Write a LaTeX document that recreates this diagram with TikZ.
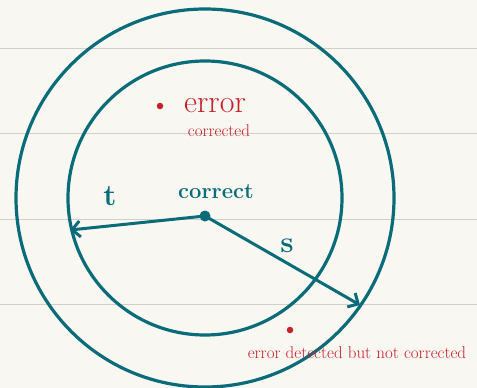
\documentclass[tikz,border=0pt]{standalone}
\usetikzlibrary{positioning,arrows.meta}
\definecolor{inkteal}{RGB}{10,108,120}
\definecolor{inkred}{RGB}{200,32,42}
\definecolor{paper}{RGB}{249,247,242}
\definecolor{ruleline}{RGB}{210,206,200}

\begin{document}
\begin{tikzpicture}[x=1pt,y=-1pt,
  ringline/.style={draw=inkteal,line width=3.2pt},
  radiusarrow/.style={draw=inkteal,line width=3pt,-{Straight Barb[length=8pt,width=16pt]}},
  tealdot/.style={circle,fill=inkteal,inner sep=0pt,minimum size=11pt},
  reddot/.style={circle,fill=inkred,inner sep=0pt,minimum size=6.5pt},
  tealtext/.style={text=inkteal,inner sep=0pt},
  redtext/.style={text=inkred,inner sep=0pt}]

	\fill[paper] (0,0) rectangle (477,388);
	\useasboundingbox (0,0) rectangle (477,388);
	\foreach \y in {48,133,219,304}
		\draw[ruleline,line width=1pt] (0,\y) -- (477,\y);

	\draw[ringline] (205,198) circle (189pt);
	\draw[ringline] (205,198) circle (137pt);

	\node[tealdot] (c) at (205,216) {};
	\coordinate (tend) at (70,230);
	\coordinate (send) at (360,305);
	\draw[radiusarrow] (c.center) -- (tend);
	\draw[radiusarrow] (c.center) -- (send);

	\node[tealtext,font=\bfseries\fontsize{22}{26}\selectfont] (lcorrect) at (216,192) {correct};
	\node[tealtext,font=\bfseries\fontsize{30}{32}\selectfont] (lt) at (110,196) {t};
	\node[tealtext,font=\bfseries\fontsize{30}{32}\selectfont] (ls) at (287,246) {s};

	\node[reddot] (e1) at (160,106) {};
	\node[redtext,font=\fontsize{32}{34}\selectfont] (lerror) at (215,106) {error};
	\node[redtext,font=\fontsize{17}{19}\selectfont] (lcorr) at (219,131) {corrected};

	\node[reddot] (e2) at (290,330) {};
	\node[redtext,font=\fontsize{17}{19}\selectfont] (ldet) at (357,353) {error detected but not corrected};

\end{tikzpicture}
\end{document}
